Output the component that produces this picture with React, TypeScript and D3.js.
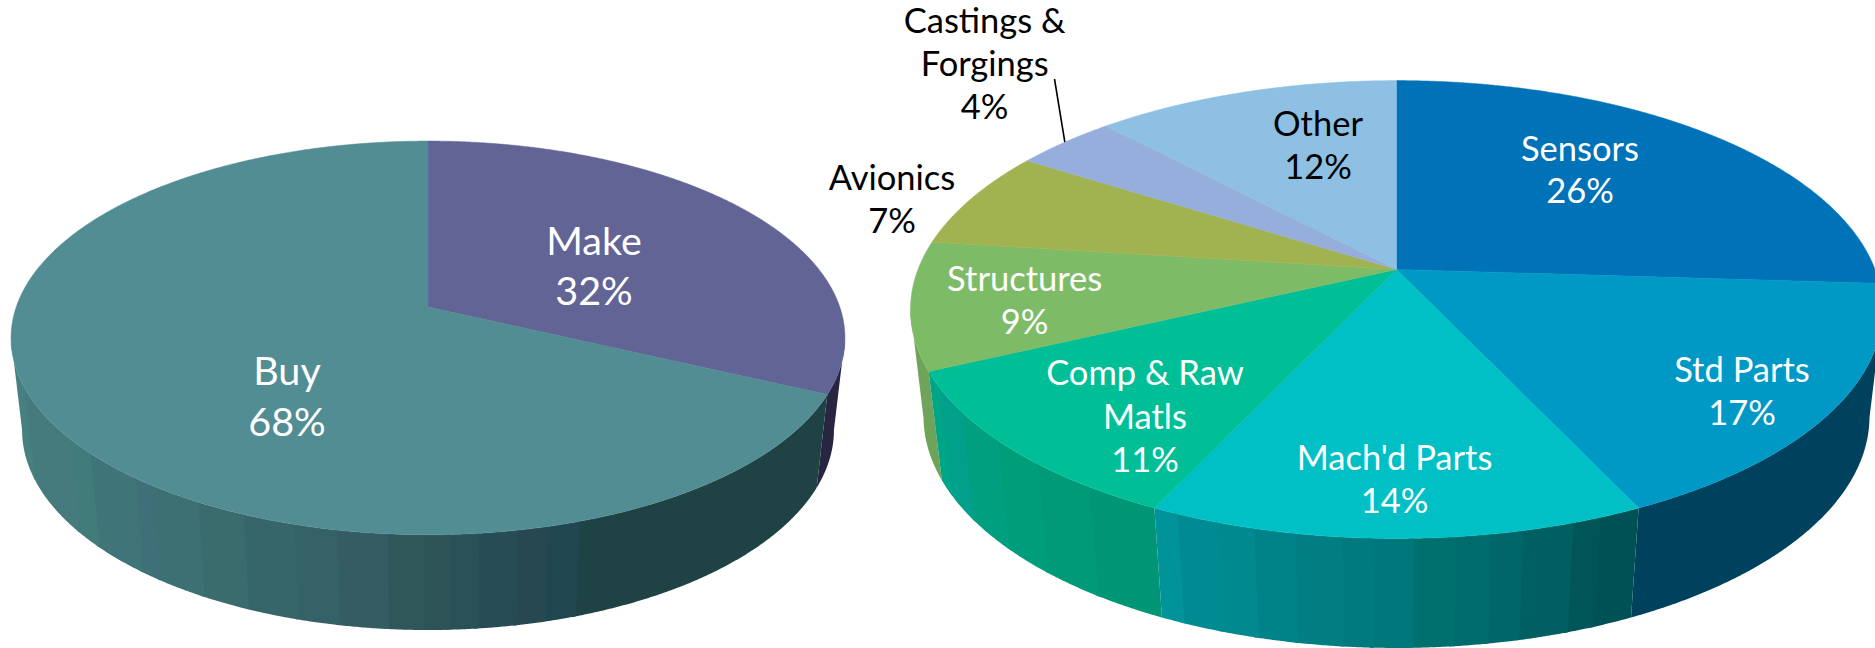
import React from "react";
import * as d3 from "d3";

// ---------- data ----------
const leftCategories = ["Make", "Buy"];
const leftValues = [32, 68];
const rightCategories = ["Sensors", "Std Parts", "Mach'd Parts", "Comp & Raw Matls", "Structures", "Avionics", "Castings & Forgings", "Other"];
const rightValues = [26, 17, 14, 11, 9, 7, 4, 12];

const leftTopColors = ["#636496", "#528d94"];
const rightTopColors = ["#0072b8", "#0099c6", "#00c0c6", "#00bf96", "#7ebb67", "#a0b350", "#96aedb", "#8dc0e2"];

type Band = [number, string]; // [pixel x where the band ends, colour]
const leftWallBands: Band[][] = [
  [[2000, "#272542"]],
  [[35, "#47817f"], [80, "#457b7c"], [100, "#417b7a"], [145, "#3f7478"], [160, "#3f7079"], [205, "#3c7072"], [250, "#3a6b6d"],
   [300, "#37666a"], [340, "#346267"], [390, "#345c62"], [425, "#2f5659"], [450, "#2e5458"], [480, "#2a5157"], [517, "#274c55"],
   [545, "#274850"], [577, "#204650"], [2000, "#1f4244"]],
];
const rightWallBands: Band[][] = [
  [[2000, "#00507c"]],
  [[2000, "#00415e"]],
  [[1185, "#009399"], [1225, "#008b92"], [1260, "#008a90"], [1300, "#008388"], [1345, "#007e82"], [1375, "#007a7e"], [1415, "#00777b"],
   [1455, "#00706f"], [1490, "#006b6d"], [1520, "#006669"], [1570, "#005f61"], [1595, "#005558"], [2000, "#005156"]],
  [[953, "#00a585"], [975, "#00a08a"], [1010, "#009f7f"], [1050, "#009d7a"], [1100, "#009a78"], [2000, "#009574"]],
  [[2000, "#6fa35a"]],
  [[2000, "#8a9a45"]],
  [[2000, "#8196bd"]],
  [[2000, "#7aa5c3"]],
];

type Label = { lines: string[]; x: number; baselines: number[]; color: string };
const leftLabels: Label[] = [
  { lines: ["Make", "32%"], x: 594, baselines: [254.5, 305], color: "#fff" },
  { lines: ["Buy", "68%"], x: 287, baselines: [385, 436], color: "#fff" },
];
const rightLabels: Label[] = [
  { lines: ["Sensors", "26%"], x: 1580, baselines: [160.5, 203], color: "#fff" },
  { lines: ["Std Parts", "17%"], x: 1742, baselines: [381.7, 425], color: "#fff" },
  { lines: ["Mach'd Parts", "14%"], x: 1394.6, baselines: [470, 513], color: "#fff" },
  { lines: ["Comp & Raw", "Matls", "11%"], x: 1145, baselines: [385, 428.5, 472], color: "#fff" },
  { lines: ["Structures", "9%"], x: 1024.7, baselines: [291, 333.5], color: "#fff" },
  { lines: ["Avionics", "7%"], x: 892, baselines: [190, 233], color: "#000" },
  { lines: ["Castings &", "Forgings", "4%"], x: 984.7, baselines: [33, 76, 119], color: "#000" },
  { lines: ["Other", "12%"], x: 1318, baselines: [136, 178.5], color: "#000" },
];

// ---------- projection ----------
type Geo = {
  cx: number; c: number; R: number; a: number; b: number; // top rim
  c2: number; R2: number; a2: number; b2: number; // bottom rim
};
const leftGeo: Geo = { cx: 428, c: 0.157, R: 411.8, a: 307, b: -143.8, c2: 0.157, R2: 400.9, a2: 398.6, b2: -132.5 };
const rightGeo: Geo = { cx: 1396.5, c: 0.1752, R: 478.5, a: 269.4, b: -174.7, c2: 0.17, R2: 466.1, a2: 377.1, b2: -160.7 };

const topPt = (g: Geo, th: number): [number, number] => {
  const u = Math.sin(th), v = Math.cos(th), d = 1 + g.c * v;
  return [g.cx + (g.R * u) / d, (g.a + g.b * v) / d];
};
const botPt = (g: Geo, th: number): [number, number] => {
  const u = Math.sin(th), v = Math.cos(th), d = 1 + g.c2 * v;
  return [g.cx + (g.R2 * u) / d, (g.a2 + g.b2 * v) / d];
};

const STEP = Math.PI / 720;
const samples = (s: number, e: number) => d3.range(s, e, STEP).concat([e]);
const line = d3.line();

function Pie3D({ values, topColors, bands, geo }: { values: number[]; topColors: string[]; bands: Band[][]; geo: Geo }) {
  const arcs = d3.pie<number>().sort(null)(values);
  const mid = (i: number) => Math.cos((arcs[i].startAngle + arcs[i].endAngle) / 2);
  const order = d3.range(arcs.length).sort((i, j) => mid(j) - mid(i));
  const walls: React.ReactNode[] = [];
  order.forEach((i) => {
    const arc = arcs[i];
    // only the wall that faces the viewer: up to the tangent of the silhouette
    const pts = samples(arc.startAngle, arc.endAngle).filter((t) => Math.cos(t) < -geo.c + 0.002);
    if (pts.length < 2) return;
    const colorOf = (t: number) => {
      const x = botPt(geo, t)[0];
      return (bands[i].find((b) => x <= b[0]) ?? bands[i][bands[i].length - 1])[1];
    };
    const groups = d3.groups(pts, colorOf);
    groups.forEach(([color, ts], g) => {
      // reach a little into the next band so that no white shows in the seam
      const k = pts.indexOf(ts[ts.length - 1]);
      const strip = ts.concat(pts.slice(k + 1, k + 4));
      const poly = [...strip.map((t) => topPt(geo, t)), ...strip.slice().reverse().map((t) => botPt(geo, t))];
      walls.push(<path key={`${i}-${g}`} d={line(poly as [number, number][]) + "Z"} fill={color} />);
    });
  });
  return (
    <g>
      {walls}
      {arcs.map((arc, i) => {
        const rim = samples(arc.startAngle, arc.endAngle).map((t) => topPt(geo, t));
        const apex: [number, number] = [geo.cx, geo.a];
        return <path key={i} d={line([apex, ...rim]) + "Z"} fill={topColors[i]} stroke={topColors[i]} strokeWidth={0.5} />;
      })}
    </g>
  );
}

function Labels({ labels, size }: { labels: Label[]; size: number }) {
  return (
    <g fontFamily="Lato, 'Open Sans', sans-serif" fontSize={size} textAnchor="middle">
      {labels.flatMap((l) =>
        l.lines.map((t, i) => (
          <text key={l.x + t} x={l.x} y={l.baselines[i]} fill={l.color}>{t}</text>
        ))
      )}
    </g>
  );
}

export default function App() {
  const arcs = d3.pie<number>().sort(null)(rightValues);
  const cast = arcs[rightCategories.indexOf("Castings & Forgings")];
  const leaderEnd = topPt(rightGeo, (cast.startAngle + cast.endAngle) / 2);
  return (
    <svg width={1875} height={648} style={{ position: "absolute", left: 0, top: 0, background: "#fff" }}>
      <Pie3D values={leftValues} topColors={leftTopColors} bands={leftWallBands} geo={leftGeo} />
      <Pie3D values={rightValues} topColors={rightTopColors} bands={rightWallBands} geo={rightGeo} />
      <line x1={1054.5} y1={79} x2={leaderEnd[0]} y2={leaderEnd[1]} stroke="#000" strokeWidth={1.6} />
      <Labels labels={leftLabels} size={39.5} />
      <Labels labels={rightLabels} size={34.5} />
    </svg>
  );
}
